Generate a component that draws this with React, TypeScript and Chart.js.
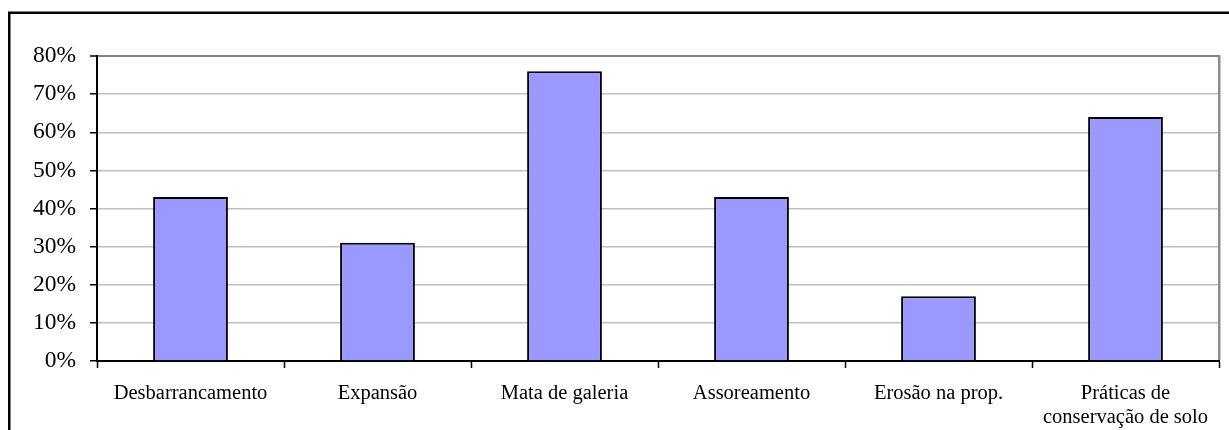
import React, { useEffect, useRef } from "react";
import { Chart, registerables } from "chart.js";

Chart.register(...registerables);

const categories: (string | string[])[] = [
  "Desbarrancamento",
  "Expansão",
  "Mata de galeria",
  "Assoreamento",
  "Erosão na prop.",
  ["Práticas de", "conservação de solo"],
];
const values: number[] = [43, 31, 76, 43, 17, 64];
const yMin = 0;
const yMax = 80;
const yStep = 10;

const SERIF = "'Liberation Serif', 'Times New Roman', serif";

const frame = {
  id: "frame",
  beforeDraw(chart: any) {
    const ctx = chart.ctx;
    ctx.save();
    ctx.fillStyle = "#ffffff";
    ctx.fillRect(0, 0, chart.width, chart.height);
    ctx.strokeStyle = "#000000";
    ctx.lineWidth = 2.5;
    ctx.strokeRect(9.25, 12.75, 1400, 600);
    ctx.restore();
  },
  afterDraw(chart: any) {
    const ctx = chart.ctx;
    const area = chart.chartArea;
    const x = Math.round(area.right) - 1;
    ctx.save();
    ctx.fillStyle = "#8c8c8c";
    ctx.fillRect(x, Math.round(area.top) - 1, 2.5, Math.round(area.bottom - area.top));
    ctx.restore();
  },
};

export default function App() {
  const ref = useRef<HTMLCanvasElement | null>(null);
  useEffect(() => {
    if (!ref.current) return;
    const chart = new Chart(ref.current, {
      type: "bar",
      data: {
        labels: categories,
        datasets: [
          {
            data: values,
            backgroundColor: "#9999FF",
            borderColor: "#000000",
            borderWidth: 2,
            barPercentage: 0.4,
            categoryPercentage: 1.0,
          },
        ],
      },
      plugins: [frame],
      options: {
        responsive: false,
        animation: false,
        layout: { padding: { top: 56, right: 10, left: 0, bottom: 0 } },
        plugins: { legend: { display: false }, tooltip: { enabled: false } },
        scales: {
          x: {
            offset: true,
            afterFit: (s: any) => {
              s.height = 69;
            },
            grid: {
              offset: true,
              drawOnChartArea: false,
              tickColor: "#000000",
              tickLength: 7,
              tickWidth: 1.5,
            },
            border: { color: "#000000", width: 2 },
            ticks: {
              color: "#000000",
              padding: 13,
              maxRotation: 0,
              autoSkip: false,
              font: { family: SERIF, size: 20.5 },
            },
          },
          y: {
            min: yMin,
            max: yMax,
            afterFit: (s: any) => {
              s.width = 97;
            },
            grid: {
              color: (c: any) => (c.tick && c.tick.value === yMax ? "#808080" : "#C0C0C0"),
              lineWidth: (c: any) => (c.tick && c.tick.value === yMax ? 2 : 1.5),
              tickColor: "#000000",
              tickLength: 7,
              tickWidth: 1.5,
            },
            border: { color: "#000000", width: 2 },
            ticks: {
              stepSize: yStep,
              color: "#000000",
              padding: 14,
              font: { family: SERIF, size: 23.5 },
              callback: (v: any) => `${v}%`,
            },
          },
        },
      },
    });
    return () => chart.destroy();
  }, []);
  return (
    <div style={{ position: "fixed", left: 0, top: 0, width: 1229, height: 430, background: "#fff" }}>
      <canvas ref={ref} width={1229} height={430} style={{ display: "block" }} />
    </div>
  );
}
